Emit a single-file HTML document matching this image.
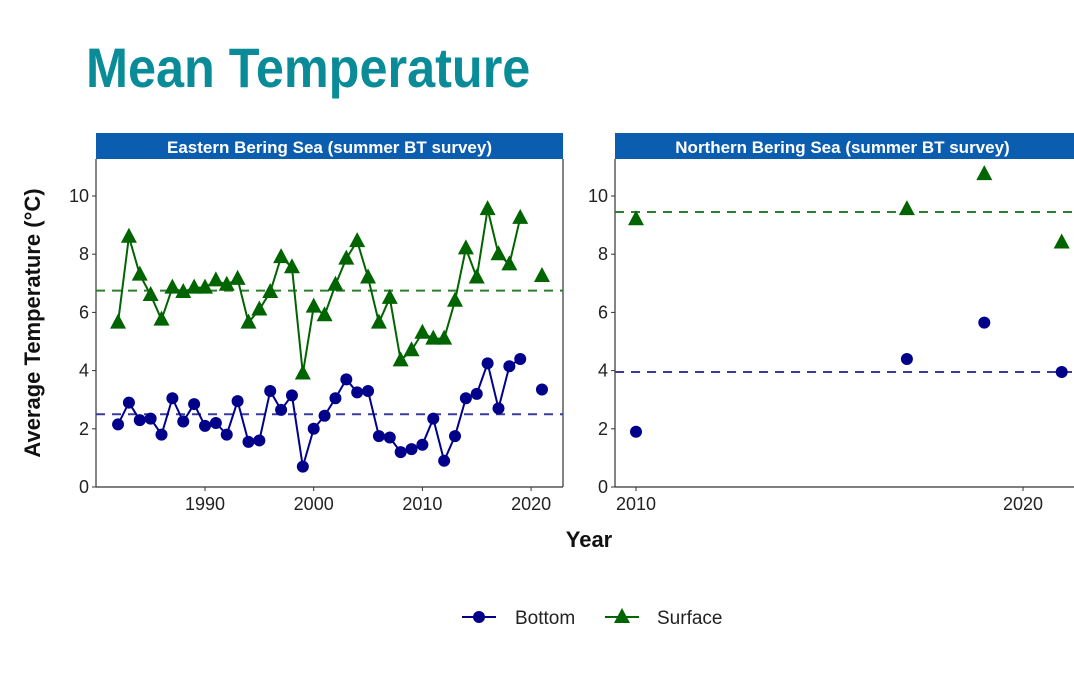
<!DOCTYPE html>
<html><head><meta charset="utf-8"><style>
body{margin:0;background:#fff;}
svg text{font-family:"Liberation Sans",sans-serif;}
</style></head><body>
<svg id="c" width="1074" height="682" xmlns="http://www.w3.org/2000/svg">
<text x="86" y="87" font-size="56" font-weight="bold" fill="#0a8c98" transform="translate(86 0) scale(0.9 1) translate(-86 0)">Mean Temperature</text>
<g id="g"></g>
</svg>
<script>
const ebsYears=[1982,1983,1984,1985,1986,1987,1988,1989,1990,1991,1992,1993,1994,1995,1996,1997,1998,1999,2000,2001,2002,2003,2004,2005,2006,2007,2008,2009,2010,2011,2012,2013,2014,2015,2016,2017,2018,2019,2021];
const ebsBottom=[2.15,2.9,2.3,2.35,1.8,3.05,2.25,2.85,2.1,2.2,1.8,2.95,1.55,1.6,3.3,2.65,3.15,0.7,2.0,2.45,3.05,3.7,3.25,3.3,1.75,1.7,1.2,1.3,1.45,2.35,0.9,1.75,3.05,3.2,4.25,2.7,4.15,4.4,3.35];
const ebsSurface=[5.65,8.6,7.3,6.6,5.75,6.85,6.7,6.85,6.85,7.1,6.95,7.15,5.65,6.1,6.7,7.9,7.55,3.9,6.2,5.9,6.95,7.85,8.45,7.2,5.65,6.5,4.35,4.7,5.3,5.1,5.1,6.4,8.2,7.2,9.55,8.0,7.65,9.25,7.25];
const ebsMeans=[2.5,6.75];
const nbsYears=[2010,2017,2019,2021];
const nbsBottom=[1.9,4.4,5.65,3.95];
const nbsSurface=[9.2,9.55,10.75,8.4];
const nbsMeans=[3.95,9.45];
const yTicks=[0,2,4,6,8,10];
const ebsXTicks=[1990,2000,2010,2020];
const nbsXTicks=[2010,2020];

const NS='http://www.w3.org/2000/svg';
const G=document.getElementById('g');
function mk(t,a,p){const e=document.createElementNS(NS,t);for(const k in a)e.setAttribute(k,a[k]);(p||G).appendChild(e);return e;}
const BLUE='#00008b',GREEN='#006400';
const y=v=>487-v*29.1;

function panel(opt){
  const g=mk('g',{});
  
  
  const x=v=>opt.x0+(v-opt.xa)*opt.k;
  const strip=mk('rect',{x:opt.L,y:133,width:opt.R-opt.L,height:26,fill:'#0b5db0'},g);
  
  
  const st=mk('text',{x:(opt.L+Math.min(opt.R,1074))/2+(opt.R>1074?-2:0),y:153,'font-size':17,'font-weight':'bold',fill:'#fff','text-anchor':'middle'},g);
  st.textContent=opt.title;
  
  
  mk('line',{x1:opt.L,y1:159,x2:opt.L,y2:487,stroke:'#333','stroke-width':1.2},g);
  mk('line',{x1:opt.L,y1:487,x2:opt.R,y2:487,stroke:'#333','stroke-width':1.2},g);
  if(opt.R<1074)mk('line',{x1:opt.R,y1:159,x2:opt.R,y2:487,stroke:'#333','stroke-width':1.2},g);
  yTicks.forEach(t=>{
    mk('line',{x1:opt.L-4,y1:y(t),x2:opt.L,y2:y(t),stroke:'#333'},g);
    const tx=mk('text',{x:opt.L-7,y:y(t)+6,'font-size':18,fill:'#222','text-anchor':'end'},g);
    tx.textContent=t;
    
    
  });
  opt.xt.forEach(t=>{
    mk('line',{x1:x(t),y1:487,x2:x(t),y2:491,stroke:'#333'},g);
    const tx=mk('text',{x:x(t),y:510,'font-size':18,fill:'#222','text-anchor':'middle'},g);
    tx.textContent=t;
    
    
  });
  const cl='clip'+opt.name;
  const cp=mk('clipPath',{id:cl},g);mk('rect',{x:opt.L,y:159,width:opt.R-opt.L,height:330},cp);
  const pg=mk('g',{'clip-path':'url(#'+cl+')'},g);
  [[opt.means[0],'#3a3aa0'],[opt.means[1],'#2e7d2e']].forEach(([m,c])=>{
    const l=mk('line',{x1:opt.L,x2:opt.R,y1:y(m),y2:y(m),stroke:c,'stroke-width':2,'stroke-dasharray':'9,7'},pg);
    
    
  });
  if(opt.lines){
    [[opt.bot,BLUE],[opt.sur,GREEN]].forEach(([vals,c])=>{
      let d='';let prev=null;
      opt.years.forEach((yr,i)=>{d+=(prev!==null&&yr-prev===1?'L':'M')+x(yr)+' '+y(vals[i]);prev=yr;});
      const p=mk('path',{d,fill:'none',stroke:c,'stroke-width':2},pg);
      
      
    });
  }
  opt.years.forEach((yr,i)=>{
    const c=mk('circle',{cx:x(yr),cy:y(opt.bot[i]),r:6,fill:BLUE},pg);
    
    
    const px=x(yr),py=y(opt.sur[i]);
    const t=mk('polygon',{points:`${px},${py-9} ${px-8},${py+6} ${px+8},${py+6}`,fill:GREEN},pg);
    
    
  });
}
panel({name:'ebs-panel',title:'Eastern Bering Sea (summer BT survey)',L:96,R:563,x0:205,xa:1990,k:10.87,xt:ebsXTicks,years:ebsYears,bot:ebsBottom,sur:ebsSurface,means:ebsMeans,lines:true});
panel({name:'nbs-panel',title:'Northern Bering Sea (summer BT survey)',L:615,R:1080,x0:636,xa:2010,k:38.7,xt:nbsXTicks,years:nbsYears,bot:nbsBottom,sur:nbsSurface,means:nbsMeans,lines:false});

const yt=mk('text',{x:0,y:0,'font-size':22,'font-weight':'bold',fill:'#111','text-anchor':'middle',transform:'translate(40 323) rotate(-90)'});
yt.textContent='Average Temperature (°C)';


const xt=mk('text',{x:589,y:547,'font-size':22,'font-weight':'bold',fill:'#111','text-anchor':'middle'});
xt.textContent='Year';



const lg=mk('g',{});


mk('line',{x1:462,x2:496,y1:617,y2:617,stroke:BLUE,'stroke-width':2},lg);
mk('circle',{cx:479,cy:617,r:6,fill:BLUE},lg);
const l1=mk('text',{x:515,y:624,'font-size':19,fill:'#222'},lg);l1.textContent='Bottom';


mk('line',{x1:605,x2:639,y1:617,y2:617,stroke:GREEN,'stroke-width':2},lg);
mk('polygon',{points:'622,608 614,623 630,623',fill:GREEN},lg);
const l2=mk('text',{x:657,y:624,'font-size':19,fill:'#222'},lg);l2.textContent='Surface';


</script>
</body></html>
